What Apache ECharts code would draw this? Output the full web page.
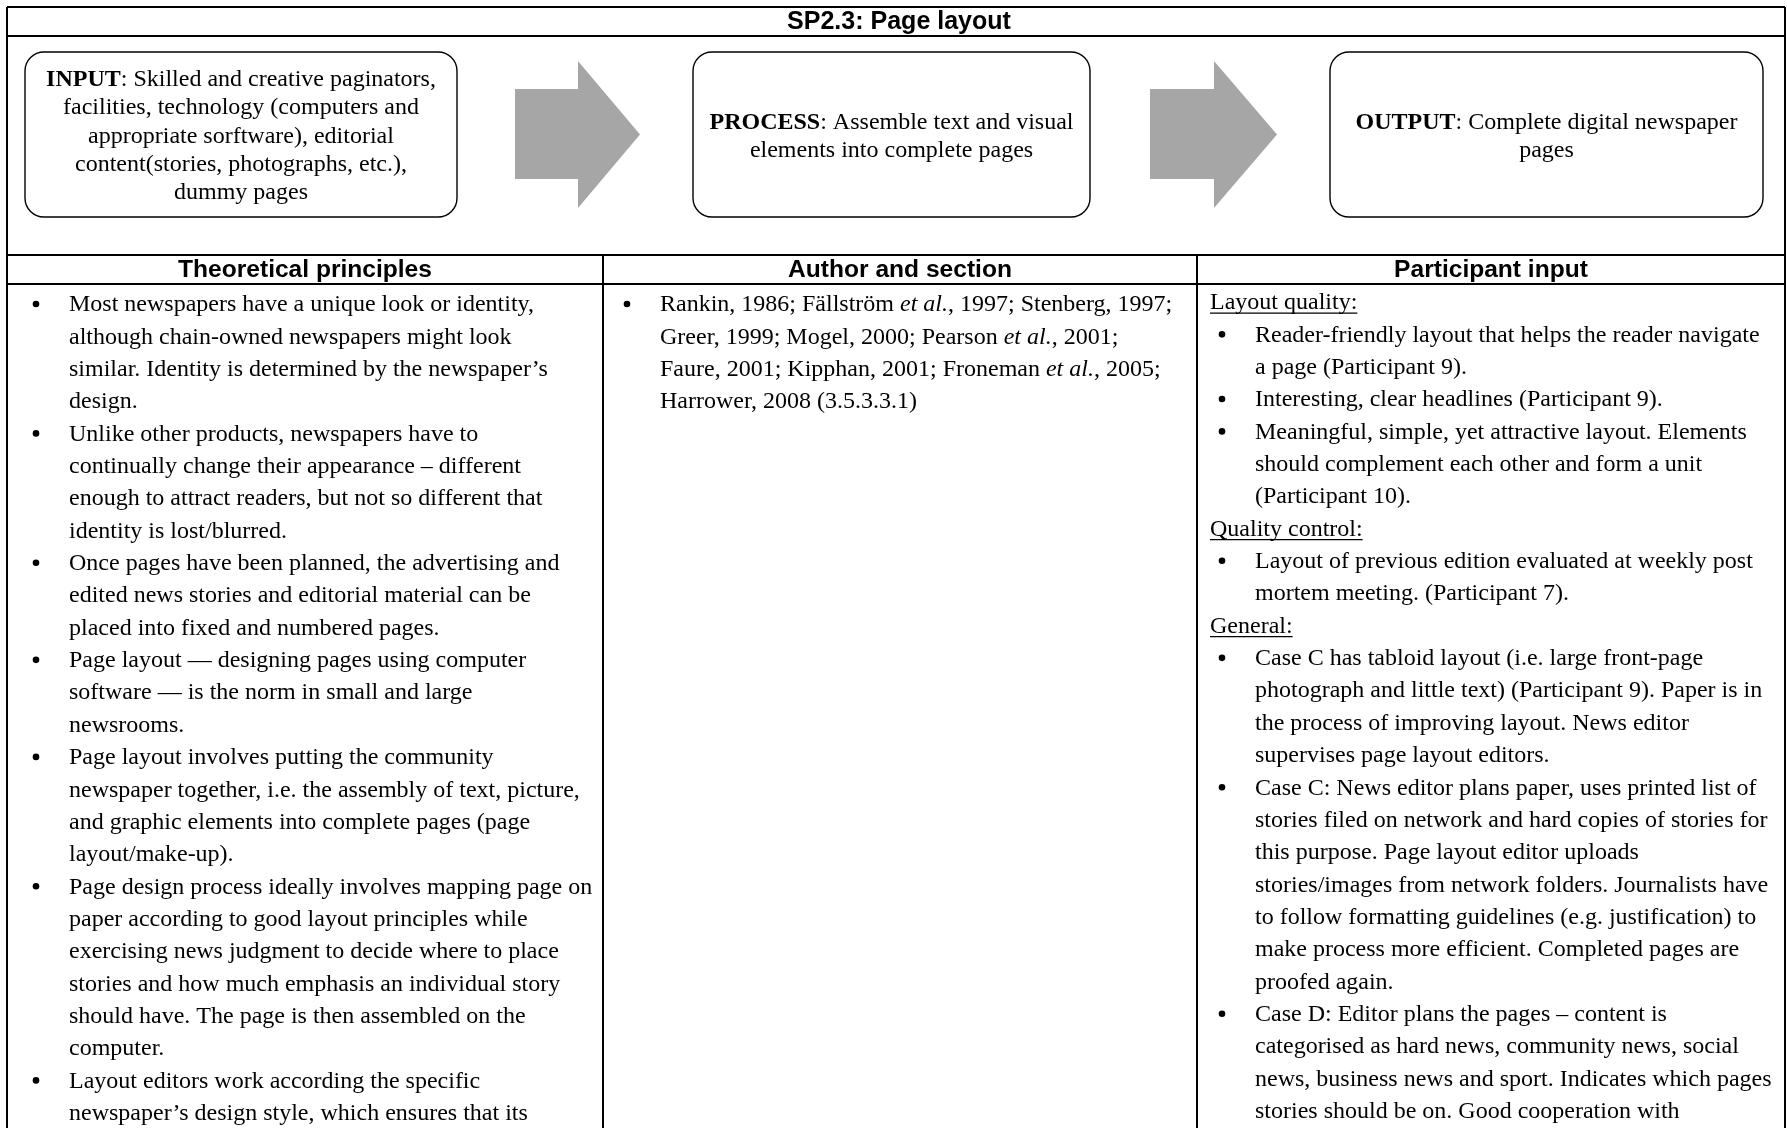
<!DOCTYPE html>
<html><head><meta charset="utf-8">
<script src="https://cdn.jsdelivr.net/npm/echarts@6/dist/echarts.min.js"></script>
<style>html,body{margin:0;padding:0;background:#fff;overflow:hidden}#c{width:1787px;height:1128px}</style>
</head><body><div id="c"></div><script>
// ---------- content ----------
const title = 'SP2.3: Page layout';
const inputLines = ['{b|INPUT}: Skilled and creative paginators,', 'facilities, technology (computers and', 'appropriate sorftware), editorial', 'content(stories, photographs, etc.),', 'dummy pages'];
const processLines = ['{b|PROCESS}: Assemble text and visual', 'elements into complete pages'];
const outputLines = ['{b|OUTPUT}: Complete digital newspaper', 'pages'];
const headers = ['Theoretical principles', 'Author and section', 'Participant input'];
// "• " = bullet start, "_" = underlined sub-heading, *x* = italic
const col1Lines = [
  '• Most newspapers have a unique look or identity,',
  'although chain-owned newspapers might look',
  'similar. Identity is determined by the newspaper\u2019s',
  'design.',
  '• Unlike other products, newspapers have to',
  'continually change their appearance \u2013 different',
  'enough to attract readers, but not so different that',
  'identity is lost/blurred.',
  '• Once pages have been planned, the advertising and',
  'edited news stories and editorial material can be',
  'placed into fixed and numbered pages.',
  '• Page layout \u2014 designing pages using computer',
  'software \u2014 is the norm in small and large',
  'newsrooms.',
  '• Page layout involves putting the community',
  'newspaper together, i.e. the assembly of text, picture,',
  'and graphic elements into complete pages (page',
  'layout/make-up).',
  '• Page design process ideally involves mapping page on',
  'paper according to good layout principles while',
  'exercising news judgment to decide where to place',
  'stories and how much emphasis an individual story',
  'should have. The page is then assembled on the',
  'computer.',
  '• Layout editors work according the specific',
  'newspaper\u2019s design style, which ensures that its'
];
const col2Lines = [
  '• Rankin, 1986; F\u00e4llstr\u00f6m *et al.*, 1997; Stenberg, 1997;',
  'Greer, 1999; Mogel, 2000; Pearson *et al.*, 2001;',
  'Faure, 2001; Kipphan, 2001; Froneman *et al.*, 2005;',
  'Harrower, 2008 (3.5.3.3.1)'
];
const col3Lines = [
  '_Layout quality:',
  '• Reader-friendly layout that helps the reader navigate',
  'a page (Participant 9).',
  '• Interesting, clear headlines (Participant 9).',
  '• Meaningful, simple, yet attractive layout. Elements',
  'should complement each other and form a unit',
  '(Participant 10).',
  '_Quality control:',
  '• Layout of previous edition evaluated at weekly post',
  'mortem meeting. (Participant 7).',
  '_General:',
  '• Case C has tabloid layout (i.e. large front-page',
  'photograph and little text) (Participant 9). Paper is in',
  'the process of improving layout. News editor',
  'supervises page layout editors.',
  '• Case C: News editor plans paper, uses printed list of',
  'stories filed on network and hard copies of stories for',
  'this purpose. Page layout editor uploads',
  'stories/images from network folders. Journalists have',
  'to follow formatting guidelines (e.g. justification) to',
  'make process more efficient. Completed pages are',
  'proofed again.',
  '• Case D: Editor plans the pages \u2013 content is',
  'categorised as hard news, community news, social',
  'news, business news and sport. Indicates which pages',
  'stories should be on. Good cooperation with'
];

// ---------- layout ----------
const SERIF = '"Liberation Serif", "Times New Roman", serif';
const SANS = '"Liberation Sans", Arial, sans-serif';
const INK = '#000';
const ctx = document.createElement('canvas').getContext('2d');
function measure(t, size, family, weight, style) {
  ctx.font = (style || 'normal') + ' ' + (weight || 'normal') + ' ' + size + 'px ' + family;
  return ctx.measureText(t).width;
}
function fit(t, target, family, weight, lo, hi) {
  const s = 20 * target / measure(t, 20, family, weight);
  return Math.max(lo, Math.min(hi, s));
}
const bodySize = fit('Once pages have been planned, the advertising and', 494, SERIF, 'normal', 18, 24);
const boxSize = fit('facilities, technology (computers and', 358, SERIF, 'normal', 17, 24);
const headSize = fit('Theoretical principles', 254, SANS, 'bold', 18, 26);
const titleSize = fit(title, 224, SANS, 'bold', 17, 26);

const L = 7, R = 1785, T = 7;
const yTitleBot = 36, yHeadTop = 255, yHeadBot = 284;
const xDiv1 = 603, xDiv2 = 1197;
const lineH = 32.35, firstY = 304;

const g = [];
function line(x1, y1, x2, y2, lw) {
  g.push({ type: 'line', shape: { x1, y1, x2, y2 }, style: { stroke: INK, lineWidth: lw || 2 }, silent: true });
}
function text(x, y, str, opt) {
  opt = opt || {};
  const sz = opt.size || bodySize, fam = opt.family || SERIF;
  g.push({
    type: 'text', x, y, silent: true,
    style: {
      text: str,
      fontSize: sz, fontFamily: fam,
      fontWeight: opt.weight || 'normal', fontStyle: 'normal',
      fill: INK,
      textAlign: opt.align || 'left', align: opt.align || 'left',
      textVerticalAlign: 'middle', verticalAlign: 'middle',
      rich: {
        b: { fontSize: sz, fontFamily: fam, fontWeight: 'bold', fill: INK },
        i: { fontSize: sz, fontFamily: fam, fontStyle: 'italic', fill: INK },
        n: { fontSize: sz, fontFamily: fam, fill: INK }
      }
    }
  });
}
function toRich(s) {
  const parts = s.split('*');
  return parts.map((p, i) => p ? (i % 2 ? '{i|' + p + '}' : '{n|' + p + '}') : '').join('');
}

// table borders
line(L, T, R, T);
line(L, T, L, 1130);
line(R, T, R, 1130);
line(L, yTitleBot, R, yTitleBot);
line(L, yHeadTop, R, yHeadTop);
line(L, yHeadBot, R, yHeadBot);
line(xDiv1, yHeadTop, xDiv1, 1130);
line(xDiv2, yHeadTop, xDiv2, 1130);

// title
text((L + R) / 2 + 3, (T + yTitleBot) / 2 + 0.5, title, { family: SANS, weight: 'bold', size: titleSize, align: 'center' });

// flow boxes
const boxes = [
  { x: 25, w: 432, lines: inputLines },
  { x: 693, w: 397, lines: processLines },
  { x: 1330, w: 433, lines: outputLines }
];
const boxY = 52, boxH = 165;
boxes.forEach(b => {
  g.push({ type: 'rect', silent: true, shape: { x: b.x, y: boxY, width: b.w, height: boxH, r: 19 },
    style: { fill: '#fff', stroke: INK, lineWidth: 1.4 } });
  const cy = boxY + boxH / 2 + 2, lh = 28.3;
  b.lines.forEach((ln, i) => {
    const y = cy + (i - (b.lines.length - 1) / 2) * lh;
    const rich = ln.replace(/^(\{b\|[^}]*\})(.*)$/, '$1{n|$2}');
    text(b.x + b.w / 2, y, rich.indexOf('{') === 0 ? rich : '{n|' + ln + '}', { size: boxSize, align: 'center' });
  });
});

// arrows
const arrows = [{ x0: 515, x1: 578, x2: 640 }, { x0: 1150, x1: 1214, x2: 1277 }];
arrows.forEach(a => {
  g.push({ type: 'polygon', silent: true,
    shape: { points: [[a.x0, 89], [a.x1, 89], [a.x1, 61], [a.x2, 134.5], [a.x1, 208], [a.x1, 179], [a.x0, 179]] },
    style: { fill: '#a6a6a6' } });
});

// headers
const colCenters = [(L + xDiv1) / 2, (xDiv1 + xDiv2) / 2, (xDiv2 + R) / 2];
headers.forEach((h, i) => text(colCenters[i], (yHeadTop + yHeadBot) / 2 + 1, h, { family: SANS, weight: 'bold', size: headSize, align: 'center' }));

// body columns
function column(lines, textX, headX, startY) {
  lines.forEach((ln, i) => {
    const y = startY + i * lineH;
    if (ln.indexOf('_') === 0) {
      const s = ln.slice(1);
      text(headX, y, '{n|' + s + '}');
      const w = measure(s, bodySize, SERIF);
      line(headX, y + bodySize * 0.42, headX + w, y + bodySize * 0.42, 1.2);
    } else if (ln.indexOf('• ') === 0) {
      g.push({ type: 'circle', silent: true, shape: { cx: textX - 33, cy: y - 1, r: 3.3 }, style: { fill: INK } });
      text(textX, y, toRich(ln.slice(2)));
    } else {
      text(textX, y, toRich(ln));
    }
  });
}
column(col1Lines, 69, 69, firstY + 1);
column(col2Lines, 660, 660, firstY + 1);
column(col3Lines, 1255, 1210, firstY - 1);

const chart = echarts.init(document.getElementById('c'), null, { renderer: 'canvas' });
chart.setOption({ backgroundColor: '#fff', animation: false, graphic: { elements: g } });
</script></body></html>
